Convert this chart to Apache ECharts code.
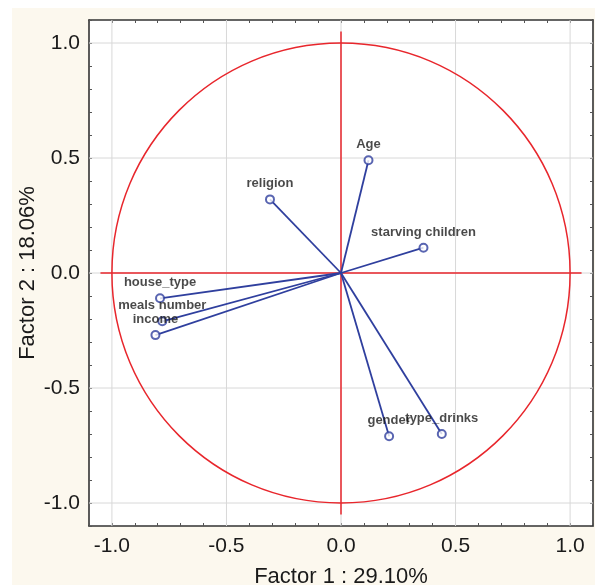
<!DOCTYPE html>
<html>
<head>
<meta charset="utf-8">
<script src="https://cdn.jsdelivr.net/npm/echarts@6/dist/echarts.min.js"></script>
<style>
	html, body { margin: 0; padding: 0; background: #fff; }
	#factors { width: 595px; height: 585px; }
</style>
</head>
<body>
<div id="factors"></div>
<script>
// variables and their loadings on factor 1 / factor 2
var varNames = ['Age', 'religion', 'starving children', 'house_type', 'meals number', 'income', 'gender', 'type_drinks']
var factor1 = [0.12, -0.31, 0.36, -0.79, -0.78, -0.81, 0.21, 0.44]
var factor2 = [0.49, 0.32, 0.11, -0.11, -0.21, -0.27, -0.71, -0.70]

// axis setup
var axisMin = -1.1
var axisMax = 1.1
var tickStep = 0.1
var tickLabels = [-1.0, -0.5, 0.0, 0.5, 1.0]
var gridValues = [-1.0, -0.5, 0.0, 0.5, 1.0]
var crossHalf = [1.05]
var circleRadius = [1]

var blue = '#2f3f9e'
var red = '#e8262c'
var font = 'Arial, "Liberation Sans", sans-serif'

function tickFormatter(v) {
	var r = Math.round(v * 10) / 10
	for(var i = 0; i < tickLabels.length; i ++) {
		if(Math.abs(tickLabels[i] - r) < 1e-6) return tickLabels[i].toFixed(1)
	}
	return ''
}

function analysisPoints() {
	var arr = []
	for(var i = 0; i < varNames.length; i ++) {
		arr.push([factor1[i], factor2[i], varNames[i]])
	}
	return arr
}

var chart = echarts.init(document.getElementById('factors'))
var points = analysisPoints()

var baseAxis = {
	type: 'value',
	min: axisMin,
	max: axisMax,
	interval: tickStep,
	axisLine: { show: true, onZero: false, lineStyle: { color: '#333', width: 1.6 } },
	axisTick: { show: true, inside: true, length: 3, lineStyle: { color: '#555' } },
	splitLine: { show: false }
}

var option = {
	animation: false,
	backgroundColor: '#fff',
	graphic: [{
		type: 'rect',
		left: 12,
		top: 8,
		shape: { width: 583, height: 577 },
		style: { fill: '#fcf8ee' },
		z: -10
	}],
	grid: {
		left: 89,
		top: 20,
		width: 504,
		height: 506,
		show: true,
		backgroundColor: '#fff',
		borderWidth: 0,
		outerBoundsMode: 'none'
	},
	xAxis: [
		echarts.util.merge({
			position: 'bottom',
			axisLabel: { fontSize: 21, fontFamily: font, color: '#1a1a1a', margin: 10, formatter: tickFormatter },
			name: 'Factor 1 : 29.10%',
			nameLocation: 'middle',
			nameGap: 40,
			nameMoveOverlap: false,
			nameTextStyle: { fontSize: 22, fontFamily: font, color: '#1a1a1a' }
		}, baseAxis, true),
		echarts.util.merge({
			position: 'top',
			axisLabel: { show: false }
		}, baseAxis, true)
	],
	yAxis: [
		echarts.util.merge({
			position: 'left',
			axisLabel: { fontSize: 21, fontFamily: font, color: '#1a1a1a', margin: 9, formatter: tickFormatter },
			name: 'Factor 2 : 18.06%',
			nameLocation: 'middle',
			nameGap: 50,
			nameMoveOverlap: false,
			nameTextStyle: { fontSize: 22, fontFamily: font, color: '#1a1a1a' }
		}, baseAxis, true),
		echarts.util.merge({
			position: 'right',
			axisLabel: { show: false }
		}, baseAxis, true)
	],
	series: [{
		// light grid lines at the labelled ticks
		type: 'custom',
		silent: true,
		z: 1,
		data: gridValues.map(function(v) { return [v, v] }),
		renderItem: function(params, api) {
			var v = api.value(0)
			var a = api.coord([v, axisMin]), b = api.coord([v, axisMax])
			var c = api.coord([axisMin, v]), d = api.coord([axisMax, v])
			var st = { stroke: '#d8d8d8', lineWidth: 1 }
			return {
				type: 'group',
				children: [
					{ type: 'line', shape: { x1: a[0], y1: a[1], x2: b[0], y2: b[1] }, style: st },
					{ type: 'line', shape: { x1: c[0], y1: c[1], x2: d[0], y2: d[1] }, style: st }
				]
			}
		}
	}, {
		// unit circle
		type: 'custom',
		silent: true,
		z: 2,
		data: circleRadius.map(function(r) { return [r, r] }),
		renderItem: function(params, api) {
			var c = api.coord([0, 0])
			var r = api.size([api.value(0), api.value(0)])
			return {
				type: 'ellipse',
				shape: { cx: c[0], cy: c[1], rx: r[0], ry: r[1] },
				style: { fill: 'none', stroke: red, lineWidth: 1.5 }
			}
		}
	}, {
		// red cross through the origin
		type: 'custom',
		silent: true,
		z: 3,
		data: crossHalf.map(function(h) { return [h, h] }),
		renderItem: function(params, api) {
			var h = api.value(0)
			var a = api.coord([-h, 0]), b = api.coord([h, 0])
			var c = api.coord([0, -h]), d = api.coord([0, h])
			var st = { stroke: red, lineWidth: 1.5 }
			return {
				type: 'group',
				children: [
					{ type: 'line', shape: { x1: a[0], y1: a[1], x2: b[0], y2: b[1] }, style: st },
					{ type: 'line', shape: { x1: c[0], y1: c[1], x2: d[0], y2: d[1] }, style: st }
				]
			}
		}
	}, {
		// vectors from origin
		type: 'custom',
		silent: true,
		z: 4,
		data: points,
		renderItem: function(params, api) {
			var o = api.coord([0, 0])
			var p = api.coord([api.value(0), api.value(1)])
			return {
				type: 'line',
				shape: { x1: o[0], y1: o[1], x2: p[0], y2: p[1] },
				style: { stroke: blue, lineWidth: 1.8 }
			}
		}
	}, {
		type: 'scatter',
		z: 5,
		symbol: 'emptyCircle',
		symbolSize: 8,
		itemStyle: { color: blue, borderWidth: 1.8 },
		label: {
			show: true,
			position: 'top',
			distance: 4,
			fontSize: 13,
			fontWeight: 'bold',
			fontFamily: font,
			color: '#1c1c1c',
			formatter: function(p) { return p.value[2] }
		},
		data: points
	}]
}

chart.setOption(option)
</script>
</body>
</html>
